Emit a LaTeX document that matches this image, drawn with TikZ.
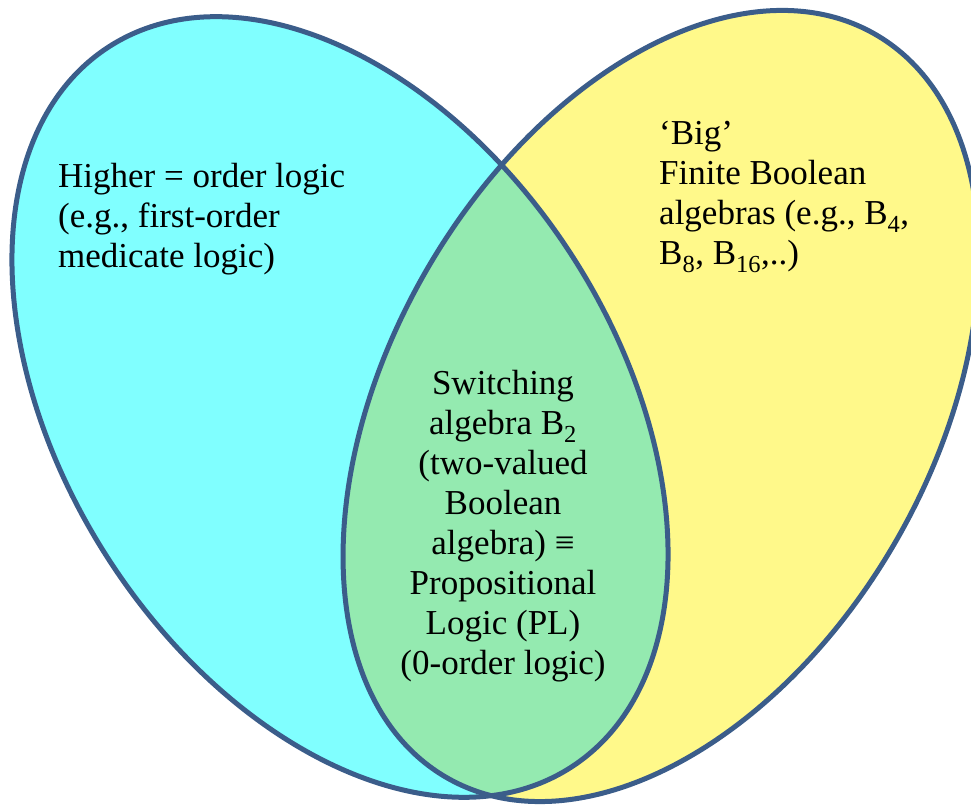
\documentclass[tikz,border=0pt]{standalone}
\usepackage{fontspec}
\setmainfont{Liberation Serif}
\definecolor{edge}{HTML}{3B5D8A}
\definecolor{cyanfill}{HTML}{80FFFF}
\definecolor{yellowfill}{HTML}{FFF98A}
\definecolor{greenfill}{HTML}{94EAB0}
\tikzset{
  leftell/.style={shift={(340,398)}, rotate=-57.4},
  rightell/.style={shift={(661,399)}, rotate=60},
  venn/.style={draw=edge, line width=5pt},
  lbl/.style={font=\fontsize{35}{40}\selectfont, inner sep=0pt, text=black},
}
\begin{document}
\begin{tikzpicture}[x=1pt,y=1pt]
\useasboundingbox (0,0) rectangle (971,805);
\clip (0,0) rectangle (971,805);
% fills
\fill[cyanfill, leftell] (0,0) ellipse [x radius=428pt, y radius=277pt];
\fill[yellowfill, rightell] (0,0) ellipse [x radius=429pt, y radius=271pt];
\begin{scope}
  \clip[leftell] (0,0) ellipse [x radius=428pt, y radius=277pt];
  \fill[greenfill, rightell] (0,0) ellipse [x radius=429pt, y radius=271pt];
\end{scope}
% outlines
\draw[venn, leftell] (0,0) ellipse [x radius=428pt, y radius=277pt];
\draw[venn, rightell] (0,0) ellipse [x radius=429pt, y radius=271pt];
% texts
\node[lbl, anchor=base west] (hol) at (58,617)
  {\begin{tabular}[t]{@{}l@{}}Higher = order logic\\(e.g., first-order\\medicate logic)\end{tabular}};
\node[lbl, anchor=base west] (fba) at (659,660)
  {\begin{tabular}[t]{@{}l@{}}‘Big’\\Finite Boolean\\algebras (e.g., B\textsubscript{4},\\B\textsubscript{8}, B\textsubscript{16},..)\end{tabular}};
\node[lbl, anchor=base] (sw) at (503,410)
  {\begin{tabular}[t]{@{}c@{}}Switching\\algebra B\textsubscript{2}\\(two-valued\\Boolean\\algebra) ≡\\Propositional\\Logic (PL)\\(0-order logic)\end{tabular}};
\end{tikzpicture}
\end{document}
